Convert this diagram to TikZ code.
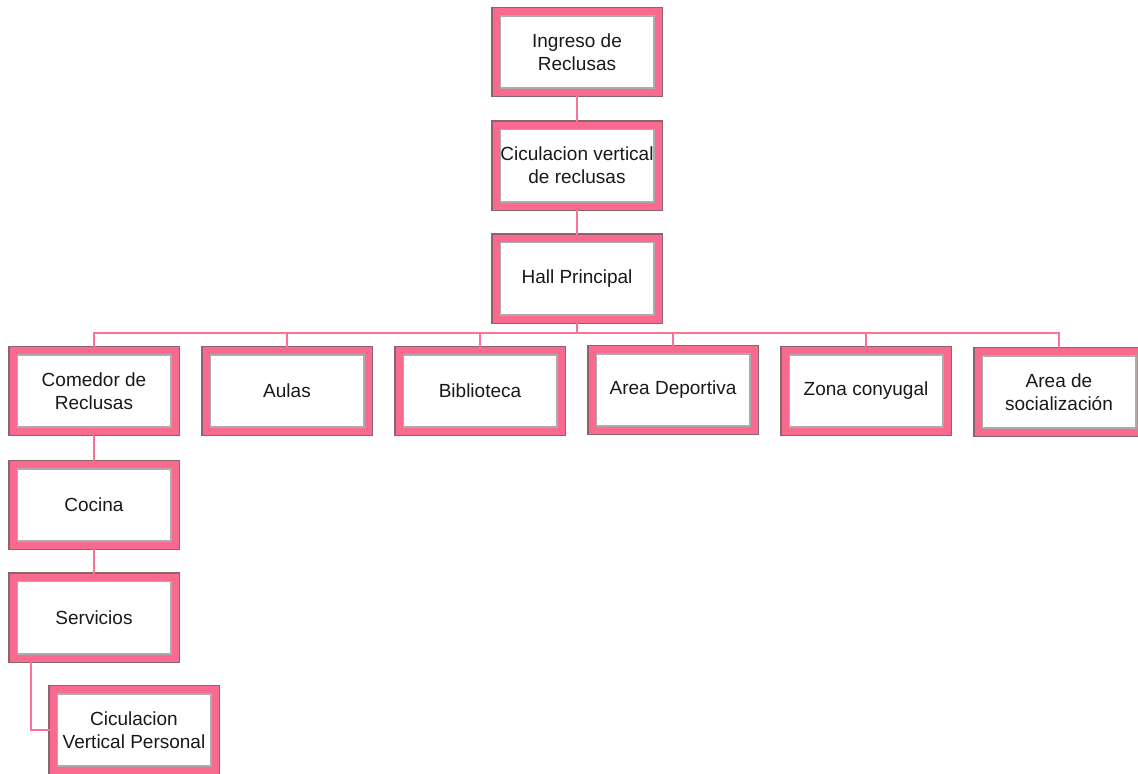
\documentclass[tikz,border=0pt]{standalone}
\usepackage{fontspec}
\usetikzlibrary{calc}
\newfontfamily\roomfont{Liberation Sans}
\definecolor{boxpink}{RGB}{248,106,142}
\definecolor{boxedge}{RGB}{140,100,112}
\definecolor{innergray}{RGB}{175,170,172}
\definecolor{linkpink}{RGB}{252,114,148}
\definecolor{textgray}{RGB}{25,25,25}
\tikzset{
  roombox/.style={rectangle, fill=white, draw=boxpink, line width=5.25pt,
    minimum width=121.5pt, minimum height=60.75pt, inner sep=1pt, align=center,
    text=textgray, font={\roomfont\fontsize{14.25}{17.25}\selectfont},
    preaction={draw=boxedge, line width=7pt},
    path picture={\draw[innergray, line width=1.2pt]
      ([shift={(3.2pt,-3.2pt)}]path picture bounding box.north west) rectangle
      ([shift={(-3.2pt,3.2pt)}]path picture bounding box.south east);}},
  link/.style={draw=linkpink, line width=1.6pt}
}
\begin{document}
\begin{tikzpicture}[x=0.75pt,y=-0.75pt]
    \useasboundingbox (0,0) rectangle (1138,774);
    %main column
    \node[roombox] (ingreso) at (577,52) {Ingreso de\\Reclusas};
    \node[roombox] (circrec) at (577,165.5) {Ciculacion vertical\\de reclusas};
    \node[roombox] (hall) at (577,278.5) {Hall Principal};
    %row of rooms
    \node[roombox] (comedor) at (94,391) {Comedor de\\Reclusas};
    \node[roombox] (aulas) at (287,391) {Aulas};
    \node[roombox] (biblio) at (480,391) {Biblioteca};
    \node[roombox] (deport) at (673,390) {Area Deportiva};
    \node[roombox] (conyugal) at (866,391) {Zona conyugal};
    \node[roombox] (social) at (1059,392) {Area de\\socialización};
    %service column
    \node[roombox] (cocina) at (94,505) {Cocina};
    \node[roombox] (servicios) at (94,617.5) {Servicios};
    \node[roombox] (circper) at (134,730) {Ciculacion\\Vertical Personal};
    %draw lines
    \coordinate (bus) at (577,333);
    \draw[link] (ingreso) -- (circrec);
    \draw[link] (circrec) -- (hall);
    \foreach \n in {comedor,aulas,biblio,deport,conyugal,social}
        \draw[link] (hall.south) -- (bus) -| (\n.north);
    \draw[link] (comedor) -- (cocina);
    \draw[link] (cocina) -- (servicios);
    \draw[link] ($(servicios.south)+(-63,0)$) |- (circper.west);
\end{tikzpicture}
\end{document}
